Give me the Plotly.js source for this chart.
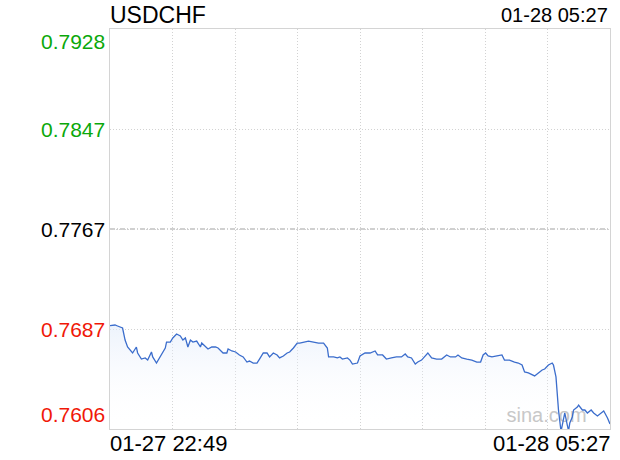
<!DOCTYPE html>
<html>
<head>
<meta charset="utf-8">
<script src="https://cdn.plot.ly/plotly-3.0.1.min.js"></script>
<style>html,body{margin:0;padding:0;background:#fff;}#chart{width:620px;height:460px;}</style>
</head>
<body>
<div id="chart"></div>
<script>
// minutes after 01-27 22:49
const minutes = [0,4,6,10,12,14,18,19,21,22,25,28,30,33,34,37,40,42,44,45,48,50,53,56,58,60,62,64,66,69,72,73,76,78,81,84,86,89,90,93,94,97,100,103,106,109,111,114,117,119,122,125,127,130,133,135,138,141,143,146,149,151,155,158,162,166,170,173,174,178,181,183,185,189,191,193,197,
199,203,207,211,213,217,220,224,228,232,235,237,240,243,245,248,252,253,256,260,264,268,271,275,277,280,284,288,292,295,297,299,301,304,308,312,314,318,322,325,328,330,333,336,338,341,344,346,349,352,353,355,356,357,359,361,362,364,365,366,368,369,372,373,376,378,380,383,385,388,391,393,396,398];
const prices = [0.76892,0.76897,0.76889,0.76873,0.76776,0.76720,0.76672,0.76688,0.76720,0.76672,0.76623,0.76632,0.76615,0.76680,0.76640,0.76591,0.76640,0.76680,0.76712,0.76760,0.76760,0.76793,0.76825,0.76809,0.76776,0.76793,0.76720,0.76776,0.76760,0.76768,0.76720,0.76752,0.76720,0.76704,0.76720,0.76720,0.76712,0.76680,0.76672,0.76672,0.76704,0.76688,0.76680,0.76656,0.76640,0.76599,0.76607,0.76591,0.76591,0.76623,0.76672,0.76672,0.76640,0.76672,0.76656,0.76632,0.76648,0.76672,0.76680,0.76712,0.76752,0.76752,0.76760,0.76768,0.76760,0.76752,0.76752,0.76712,0.76640,0.76640,0.76632,0.76640,0.76623,0.76632,0.76615,0.76583,0.76591,
0.76648,0.76672,0.76672,0.76688,0.76656,0.76656,0.76623,0.76632,0.76640,0.76640,0.76664,0.76640,0.76632,0.76583,0.76599,0.76615,0.76656,0.76672,0.76632,0.76623,0.76623,0.76656,0.76640,0.76640,0.76656,0.76632,0.76623,0.76615,0.76599,0.76599,0.76656,0.76672,0.76648,0.76640,0.76648,0.76656,0.76615,0.76615,0.76599,0.76591,0.76575,0.76519,0.76511,0.76495,0.76487,0.76511,0.76535,0.76543,0.76575,0.76591,0.76575,0.76479,0.76318,0.76213,0.76040,0.76132,0.76189,0.76092,0.76045,0.76108,0.76157,0.76213,0.76237,0.76253,0.76213,0.76213,0.76189,0.76213,0.76189,0.76165,0.76189,0.76205,0.76149,0.76100];

const symbol = 'USDCHF';
const startLabel = '01-27 22:49';
const endLabel = '01-28 05:27';
const yTickVals = [0.7606, 0.76865, 0.7767, 0.78475, 0.7928];
const yTickText = ['0.7606', '0.7687', '0.7767', '0.7847', '0.7928'];
const yTickColors = ['#f01808', '#f01808', '#000000', '#0aa80a', '#0aa80a'];
const watermark = 'sina.com';

const xMin = minutes[0], xMax = minutes[minutes.length - 1];
const yMin = yTickVals[0], yMax = yTickVals[yTickVals.length - 1];
const font = 'Liberation Sans, Arial, Helvetica, sans-serif';

const trace = {
  x: minutes, y: prices, type: 'scatter', mode: 'lines',
  line: {color: '#3b6dcc', width: 1.3},
  fill: 'tozeroy',
  fillcolor: 'rgba(230,238,250,0.35)',
  fillgradient: {type: 'vertical', start: yMin, stop: 0.7690,
    colorscale: [[0, 'rgba(255,255,255,0)'], [1, 'rgba(222,233,250,0.55)']]},
  hoverinfo: 'skip'
};

const annotations = [];
yTickVals.forEach((v, i) => {
  const last = i === yTickVals.length - 1, first = i === 0;
  annotations.push({
    xref: 'paper', yref: 'y', x: 0, y: v, xanchor: 'right',
    yanchor: last ? 'top' : (first ? 'bottom' : 'middle'),
    xshift: -3, yshift: last ? 1 : (first ? 1 : 0),
    text: yTickText[i], showarrow: false,
    font: {family: font, size: 21, color: yTickColors[i]}
  });
});
annotations.push({xref: 'x', yref: 'paper', x: xMin, y: 0, xanchor: 'left', yanchor: 'top', xshift: -2, yshift: 0,
  text: startLabel, showarrow: false, font: {family: font, size: 22, color: '#000'}});
annotations.push({xref: 'x', yref: 'paper', x: xMax, y: 0, xanchor: 'right', yanchor: 'top', xshift: 2, yshift: 0,
  text: endLabel, showarrow: false, font: {family: font, size: 22, color: '#000'}});
annotations.push({xref: 'paper', yref: 'paper', x: 0, y: 1, xanchor: 'left', yanchor: 'bottom', xshift: -2, yshift: -1,
  text: symbol, showarrow: false, font: {family: font, size: 23, color: '#000'}});
annotations.push({xref: 'paper', yref: 'paper', x: 1, y: 1, xanchor: 'right', yanchor: 'bottom', xshift: 0, yshift: 1,
  text: endLabel, showarrow: false, font: {family: font, size: 20, color: '#000'}});

const layout = {
  width: 620, height: 460,
  margin: {l: 110, r: 10, t: 29, b: 31, pad: 0},
  paper_bgcolor: '#fff', plot_bgcolor: '#fff',
  showlegend: false,
  xaxis: {range: [xMin, xMax], tick0: xMin, dtick: (xMax - xMin) / 8, showticklabels: false, ticks: '',
    showgrid: true, gridcolor: '#d2d2d2', griddash: '1px,2px', gridwidth: 1, zeroline: false,
    showline: true, mirror: true, linecolor: '#d4d4d4', linewidth: 1},
  yaxis: {range: [yMin, yMax], tickmode: 'array', tickvals: yTickVals, showticklabels: false, ticks: '',
    showgrid: true, gridcolor: '#d2d2d2', griddash: '1px,2px', gridwidth: 1, zeroline: false,
    showline: true, mirror: true, linecolor: '#d4d4d4', linewidth: 1},
  shapes: [
    {type: 'line', xref: 'paper', yref: 'y', x0: 0, x1: 1, y0: yTickVals[2], y1: yTickVals[2],
      line: {color: '#a0a0a0', width: 1, dash: '5px,2px,1px,2px'}, layer: 'below'},
    {type: 'rect', xref: 'x', yref: 'paper', x0: 300, x1: 395, y0: 0.005, y1: 0.075,
      line: {width: 0}, fillcolor: 'rgba(0,0,0,0)', layer: 'below',
      label: {text: watermark, textposition: 'middle center', font: {family: font, size: 20, color: '#c4c4c4'}}}
  ],
  annotations: annotations
};

Plotly.newPlot('chart', [trace], layout, {staticPlot: true, displayModeBar: false});
</script>
</body>
</html>
